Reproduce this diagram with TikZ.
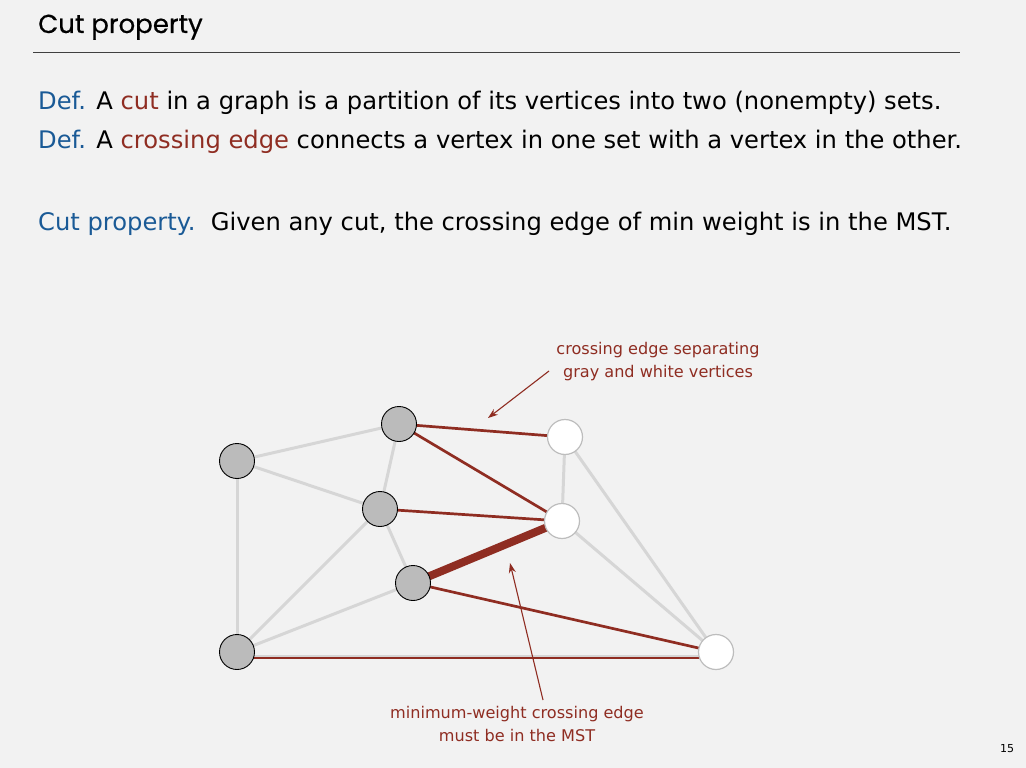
\documentclass[tikz,border=0pt]{standalone}
\usepackage{fontspec}
\setmainfont{DejaVu Sans}
\newfontfamily\titlefont{Poppins}[FakeBold=0.5]
\usetikzlibrary{arrows.meta}
\pgfdeclarelayer{bgfill}
\pgfdeclarelayer{edges}
\pgfsetlayers{bgfill,edges,main}
\definecolor{bgc}{HTML}{F2F2F2}
\definecolor{defblue}{HTML}{1A5A96}
\definecolor{cutred}{HTML}{8F2D22}
\definecolor{vgray}{HTML}{BBBBBB}
\definecolor{egray}{HTML}{D6D6D6}
\definecolor{wborder}{HTML}{BDBDBD}
\tikzset{
  gv/.style={circle,draw=black,fill=vgray,line width=0.9pt,minimum size=35pt,inner sep=0pt},
  wv/.style={circle,draw=wborder,fill=white,line width=1.2pt,minimum size=35pt,inner sep=0pt},
  gedge/.style={egray,line width=3pt},
  redge/.style={cutred,line width=2.7pt},
  bigedge/.style={cutred,line width=8pt},
  callout/.style={cutred,line width=1.1pt,-{Stealth[length=10pt,width=7pt]}},
  body/.style={anchor=base west,inner sep=0pt,font=\fontsize{24.2}{28}\selectfont},
  lab/.style={cutred,align=center,inner sep=0pt,font=\fontsize{16.1}{23}\selectfont},
}
\begin{document}
\begin{tikzpicture}[x=1pt,y=-1pt]
\useasboundingbox (0,0) rectangle (1026,768);
\begin{pgfonlayer}{bgfill}
\fill[bgc] (0,0) rectangle (1026,768);
\end{pgfonlayer}
% title
\node[anchor=base west,inner sep=0pt,font=\titlefont\fontsize{26}{30}\selectfont] (title) at (38,33) {Cut property};
\coordinate (rl) at (33,53);
\coordinate (rr) at (960,53);
\draw[black!75,line width=1pt] (rl) -- (rr);
% body text
\node[body] (l1) at (38,110) {\textcolor{defblue}{Def.} A \textcolor{cutred}{cut} in a graph is a partition of its vertices into two (nonempty) sets.};
\node[body] (l2) at (38,148) {\textcolor{defblue}{Def.} A \textcolor{cutred}{crossing edge} connects a vertex in one set with a vertex in the other.};
\node[body] (l3) at (38,230) {\textcolor{defblue}{Cut property.}\ \ Given any cut, the crossing edge of min weight is in the MST.};
% vertices
\node[gv] (A) at (237,461) {};
\node[gv] (B) at (399,424) {};
\node[gv] (C) at (380,509) {};
\node[gv] (D) at (413,583) {};
\node[gv] (E) at (237,652) {};
\node[wv] (F) at (565,437) {};
\node[wv] (G) at (562,521) {};
\node[wv] (H) at (716,652) {};
% edges
\begin{pgfonlayer}{edges}
\draw[gedge] (A.center) -- (B.center);
\draw[gedge] (A.center) -- (C.center);
\draw[gedge] (A.center) -- (E.center);
\draw[gedge] (B.center) -- (C.center);
\draw[gedge] (C.center) -- (D.center);
\draw[gedge] (C.center) -- (E.center);
\draw[gedge] (D.center) -- (E.center);
\draw[gedge] (F.center) -- (G.center);
\draw[gedge] (F.center) -- (H.center);
\draw[gedge] (G.center) -- (H.center);
\draw[gedge] ([yshift=-4.5pt]E.center) -- ([yshift=-4.5pt]H.center);
\draw[redge] (B.center) -- (F.center);
\draw[redge] (B.center) -- (G.center);
\draw[redge] (C.center) -- (G.center);
\draw[redge] (D.center) -- (H.center);
\draw[redge] ([yshift=-6pt]E.center) -- ([yshift=-6pt]H.center);
\draw[bigedge] (D.center) -- (G.center);
\end{pgfonlayer}
% labels
\node[lab] (lt) at (658,362) {crossing edge separating\\gray and white vertices};
\node[lab] (lb) at (517,724) {minimum-weight crossing edge\\must be in the MST};
\coordinate (t1) at (549,371);
\coordinate (h1) at (488,418);
\coordinate (t2) at (543,700);
\coordinate (h2) at (510,563);
\draw[callout] (t1) -- (h1);
\draw[callout] (t2) -- (h2);
% page number
\node[anchor=base,inner sep=0pt,font=\fontsize{11}{12}\selectfont] (pn) at (1007,752) {15};
\end{tikzpicture}
\end{document}
